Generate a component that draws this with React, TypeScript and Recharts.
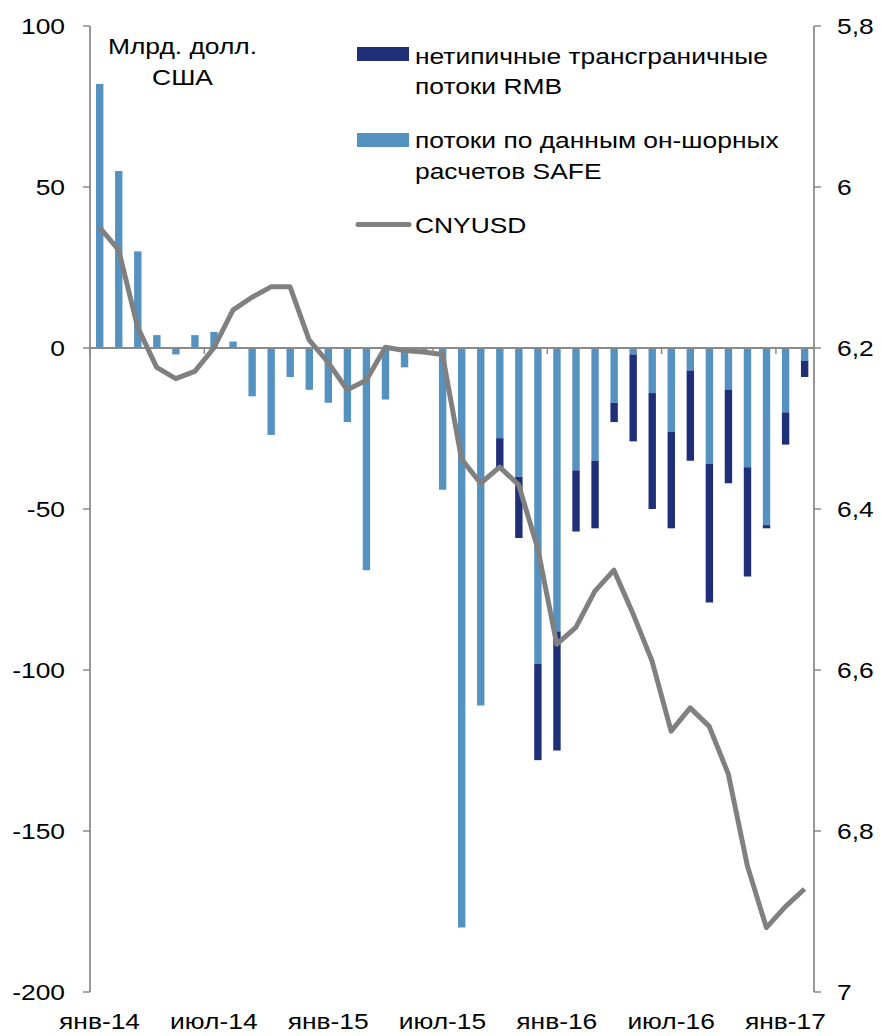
import React from "react";
import {
  Bar,
  ComposedChart,
  Line,
  ReferenceLine,
  XAxis,
  YAxis,
} from "recharts";

const months = [
  "янв-14", "фев-14", "мар-14", "апр-14", "май-14", "июн-14",
  "июл-14", "авг-14", "сен-14", "окт-14", "ноя-14", "дек-14",
  "янв-15", "фев-15", "мар-15", "апр-15", "май-15", "июн-15",
  "июл-15", "авг-15", "сен-15", "окт-15", "ноя-15", "дек-15",
  "янв-16", "фев-16", "мар-16", "апр-16", "май-16", "июн-16",
  "июл-16", "авг-16", "сен-16", "окт-16", "ноя-16", "дек-16",
  "янв-17", "фев-17",
];

// потоки по данным он-шорных расчетов SAFE, млрд долл.
const safeFlows = [
  82, 55, 30, 4, -2, 4, 5, 2, -15, -27, -9, -13,
  -17, -23, -69, -16, -6, -1, -44, -180, -111, -28, -40, -98,
  -88, -38, -35, -17, -2, -14, -26, -7, -36, -13, -37, -55,
  -20, -4,
];

// нетипичные трансграничные потоки RMB, млрд долл.
const rmbFlows = [
  0, 0, 0, 0, 0, 0, 0, 0, 0, 0, 0, 0,
  0, 0, 0, 0, 0, 0, 0, 0, 0, -10, -19, -30,
  -37, -19, -21, -6, -27, -36, -30, -28, -43, -29, -34, -1,
  -10, -5,
];

const cnyusd = [
  6.05, 6.078, 6.174, 6.224, 6.238, 6.229, 6.2, 6.153, 6.137, 6.124, 6.124, 6.19,
  6.218, 6.252, 6.24, 6.199, 6.203, 6.205, 6.208, 6.338, 6.368, 6.348, 6.37, 6.449,
  6.568, 6.547, 6.502, 6.476, 6.53, 6.589, 6.676, 6.647, 6.67, 6.729, 6.843, 6.92,
  6.894, 6.872,
];

const leftTicks = [-200, -150, -100, -50, 0, 50, 100];
const rightTicks = [5.8, 6, 6.2, 6.4, 6.6, 6.8, 7];

const data = months.map((m, i) => ({
  m,
  safe: safeFlows[i],
  rmb: rmbFlows[i],
  fx: cnyusd[i],
}));

const W = 881;
const H = 1036;
const TOP = 26;
const LEFT_W = 90;
const RIGHT_W = 67;
const X_H = 44;
const PLOT_W = W - LEFT_W - RIGHT_W;
const PLOT_H = H - TOP - X_H;

const AXIS = "#8a8a8a";
const DARK = "#1f3078";
const LIGHT = "#5592c0";
const GREY = "#808080";
const FONT = "'Liberation Sans', Arial, sans-serif";
const SX = 1.2; // text in the picture is stretched sideways

function LeftTick(props: any) {
  const { x, y, payload } = props;
  return (
    <text
      transform={`translate(${x},${y}) scale(${SX},1)`}
      textAnchor="end"
      dy="0.355em"
      fontSize={22}
      fontFamily={FONT}
      fill="#000"
    >
      {payload.value}
    </text>
  );
}

function RightTick(props: any) {
  const { x, y, payload } = props;
  return (
    <text
      transform={`translate(${x},${y}) scale(${SX},1)`}
      textAnchor="start"
      dy="0.355em"
      fontSize={22}
      fontFamily={FONT}
      fill="#000"
    >
      {String(payload.value).replace(".", ",")}
    </text>
  );
}

function MonthTick(props: any) {
  const { x, payload } = props;
  const index = props.index ?? payload.index;
  if (index % 6 !== 0) return <g />;
  const band = PLOT_W / months.length;
  const zeroY = TOP + (PLOT_H * 100) / 300;
  return (
    <g>
      <line
        x1={x - band / 2}
        x2={x - band / 2}
        y1={zeroY}
        y2={zeroY + 6}
        stroke={AXIS}
        strokeWidth={1.5}
      />
      <text
        transform={`translate(${x},${H - 7}) scale(${SX},1)`}
        textAnchor="middle"
        fontSize={22}
        fontFamily={FONT}
        fill="#000"
      >
        {payload.value}
      </text>
    </g>
  );
}

function Label({ x, y, children, anchor = "start" }: any) {
  return (
    <text
      transform={`translate(${x},${y}) scale(${SX},1)`}
      textAnchor={anchor}
      fontSize={22}
      fontFamily={FONT}
      fill="#000"
    >
      {children}
    </text>
  );
}

export default function App() {
  return (
    <div style={{ position: "absolute", left: 0, top: 0, width: W, height: H, background: "#fff" }}>
      <ComposedChart
        width={W}
        height={H}
        data={data}
        stackOffset="sign"
        margin={{ top: TOP, right: 0, bottom: 0, left: 0 }}
      >
        <XAxis
          dataKey="m"
          height={X_H}
          interval={0}
          axisLine={false}
          tickLine={false}
          tick={MonthTick}
        />
        <YAxis
          yAxisId="left"
          width={LEFT_W}
          domain={[-200, 100]}
          ticks={leftTicks}
          allowDataOverflow
          tickSize={7}
          tickMargin={18}
          axisLine={{ stroke: AXIS, strokeWidth: 1.75 }}
          tickLine={{ stroke: AXIS, strokeWidth: 1.5 }}
          tick={LeftTick}
        />
        <YAxis
          yAxisId="right"
          orientation="right"
          width={RIGHT_W}
          domain={[5.8, 7]}
          ticks={rightTicks}
          reversed
          allowDataOverflow
          tickSize={7}
          tickMargin={16}
          axisLine={{ stroke: AXIS, strokeWidth: 1.75 }}
          tickLine={{ stroke: AXIS, strokeWidth: 1.5 }}
          tick={RightTick}
        />
        <Bar
          yAxisId="left"
          dataKey="safe"
          stackId="a"
          fill={LIGHT}
          barSize={7.4}
          isAnimationActive={false}
        />
        <Bar
          yAxisId="left"
          dataKey="rmb"
          stackId="a"
          fill={DARK}
          barSize={7.4}
          isAnimationActive={false}
        />
        <ReferenceLine yAxisId="left" y={0} stroke={AXIS} strokeWidth={2} />
        <Line
          yAxisId="right"
          dataKey="fx"
          type="linear"
          stroke={GREY}
          strokeWidth={5}
          strokeLinejoin="round"
          dot={false}
          activeDot={false}
          isAnimationActive={false}
        />
      </ComposedChart>

      <svg
        width={W}
        height={H}
        style={{ position: "absolute", left: 0, top: 0, pointerEvents: "none" }}
      >
        <Label x={182.5} y={54} anchor="middle">Млрд. долл.</Label>
        <Label x={182.5} y={85} anchor="middle">США</Label>

        <rect x={357} y={47} width={52} height={14} fill={DARK} />
        <Label x={415} y={64}>нетипичные трансграничные</Label>
        <Label x={415} y={94}>потоки RMB</Label>

        <rect x={357} y={133} width={52} height={14} fill={LIGHT} />
        <Label x={415} y={148}>потоки по данным он-шорных</Label>
        <Label x={415} y={179}>расчетов SAFE</Label>

        <line x1={358} x2={409} y1={224.5} y2={224.5} stroke={GREY} strokeWidth={5} strokeLinecap="round" />
        <Label x={415} y={233}>CNYUSD</Label>
      </svg>
    </div>
  );
}
